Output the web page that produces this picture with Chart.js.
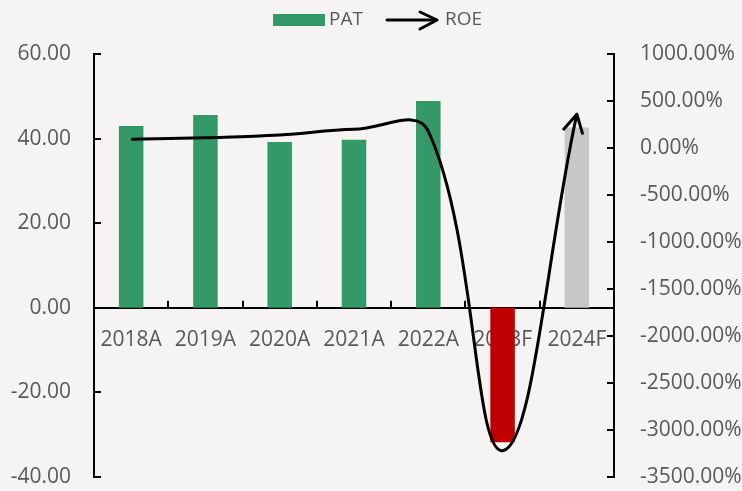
<!DOCTYPE html>
<html>
<head>
<meta charset="utf-8">
<script src="https://cdn.jsdelivr.net/npm/chart.js@4.4.0/dist/chart.umd.min.js"></script>
<style>
  html, body { margin: 0; padding: 0; background: #f5f4f3; }
  #wrap { width: 742px; height: 491px; }
</style>
</head>
<body>
<div id="wrap"><canvas id="c" width="742" height="491"></canvas></div>
<script>
const categories = ['2018A', '2019A', '2020A', '2021A', '2022A', '2023F', '2024F'];
const patValues = [43.0, 45.6, 39.2, 39.7, 48.9, -31.8, 42.6];
const roeValues = [92, 110, 138, 199, 180, -3220, 360];
const barColors = ['#339966', '#339966', '#339966', '#339966', '#339966', '#c00000', '#c8c8c8'];
const leftTicks = { min: -40, max: 60, step: 20 };
const rightTicks = { min: -3500, max: 1000, step: 500 };
const legendLabels = ['PAT', 'ROE'];

const FONT = "'Open Sans', 'Liberation Sans', sans-serif";
const TXT = '#595959';

const bgPlugin = {
  id: 'bg',
  beforeDraw(chart) {
    const ctx = chart.ctx;
    ctx.save();
    ctx.fillStyle = '#f5f4f3';
    ctx.fillRect(0, 0, chart.width, chart.height);
    ctx.restore();
  }
};

const decoPlugin = {
  id: 'deco',
  afterDraw(chart) {
    const ctx = chart.ctx;
    const y = chart.scales.y, y2 = chart.scales.y2, x = chart.scales.x;
    ctx.save();
    ctx.strokeStyle = '#000';
    ctx.lineWidth = 2;
    for (let v = leftTicks.min; v <= leftTicks.max; v += leftTicks.step) {
      const py = Math.round(y.getPixelForValue(v));
      ctx.beginPath(); ctx.moveTo(y.right, py); ctx.lineTo(y.right + 7, py); ctx.stroke();
    }
    for (let v = rightTicks.min; v <= rightTicks.max; v += rightTicks.step) {
      const py = Math.round(y2.getPixelForValue(v));
      ctx.beginPath(); ctx.moveTo(y2.left, py); ctx.lineTo(y2.left - 7, py); ctx.stroke();
    }
    const zy = y.getPixelForValue(0);
    const step = (x.right - x.left) / categories.length;
    for (let i = 1; i < categories.length; i++) {
      const px = Math.round(x.left + step * i);
      ctx.beginPath(); ctx.moveTo(px, zy); ctx.lineTo(px, zy - 7); ctx.stroke();
    }
    const meta = chart.getDatasetMeta(1);
    const pts = meta.data;
    const last = pts[pts.length - 1];
    const cpx = last.cp1x !== undefined ? last.cp1x : pts[pts.length - 2].x;
    const cpy = last.cp1y !== undefined ? last.cp1y : pts[pts.length - 2].y;
    const ang = Math.atan2(last.y - cpy, last.x - cpx);
    const L = 20, a = 0.5;
    ctx.lineWidth = 3;
    ctx.lineCap = 'round';
    ctx.lineJoin = 'round';
    ctx.beginPath();
    ctx.moveTo(last.x - L * Math.cos(ang - a), last.y - L * Math.sin(ang - a));
    ctx.lineTo(last.x, last.y);
    ctx.lineTo(last.x - L * Math.cos(ang + a), last.y - L * Math.sin(ang + a));
    ctx.stroke();

    ctx.fillStyle = '#339966';
    ctx.fillRect(273, 14, 52, 12);
    ctx.fillStyle = TXT;
    ctx.font = "19px " + FONT;
    ctx.textBaseline = 'middle';
    ctx.textAlign = 'left';
    ctx.fillText(legendLabels[0], 329, 20);
    ctx.strokeStyle = '#000';
    ctx.lineWidth = 3;
    ctx.beginPath(); ctx.moveTo(387, 20); ctx.lineTo(436, 20); ctx.stroke();
    ctx.beginPath(); ctx.moveTo(420, 12); ctx.lineTo(437, 20); ctx.lineTo(420, 29); ctx.stroke();
    ctx.fillText(legendLabels[1], 445, 20);
    ctx.restore();
  }
};

new Chart(document.getElementById('c'), {
  data: {
    labels: categories,
    datasets: [
      {
        type: 'bar',
        label: legendLabels[0],
        data: patValues,
        backgroundColor: barColors,
        yAxisID: 'y',
        barPercentage: 0.33,
        categoryPercentage: 1.0,
        order: 2
      },
      {
        type: 'line',
        label: legendLabels[1],
        data: roeValues,
        yAxisID: 'y2',
        borderColor: '#000',
        borderWidth: 3,
        pointRadius: 0,
        tension: 0.4,
        fill: false,
        order: 1
      }
    ]
  },
  options: {
    responsive: false,
    devicePixelRatio: 1,
    animation: false,
    layout: { padding: { top: 54, bottom: 14, left: 0, right: 0 } },
    plugins: { legend: { display: false }, tooltip: { enabled: false } },
    scales: {
      x: {
        type: 'category',
        position: { y: 0 },
        offset: true,
        grid: { display: false, drawTicks: false },
        border: { display: true, color: '#000', width: 2 },
        ticks: { color: TXT, font: { family: FONT, size: 21 }, padding: 20, maxRotation: 0, autoSkip: false },
        afterFit(s) { s.height = 0; s.paddingLeft = 0; s.paddingRight = 0; }
      },
      y: {
        position: 'left',
        min: leftTicks.min, max: leftTicks.max,
        grid: { display: false, drawTicks: false },
        border: { display: true, color: '#000', width: 2 },
        ticks: { stepSize: leftTicks.step, color: TXT, font: { family: FONT, size: 21 }, padding: 23,
                 callback: v => Number(v).toFixed(2) },
        afterFit(s) { s.width = 94; s.paddingTop = 0; s.paddingBottom = 0; }
      },
      y2: {
        position: 'right',
        min: rightTicks.min, max: rightTicks.max,
        grid: { display: false, drawTicks: false },
        border: { display: true, color: '#000', width: 2 },
        ticks: { stepSize: rightTicks.step, color: TXT, font: { family: FONT, size: 21 }, padding: 26,
                 callback: v => Number(v).toFixed(2) + '%' },
        afterFit(s) { s.width = 128; s.paddingTop = 0; s.paddingBottom = 0; }
      }
    }
  },
  plugins: [bgPlugin, decoPlugin]
});
</script>
</body>
</html>
